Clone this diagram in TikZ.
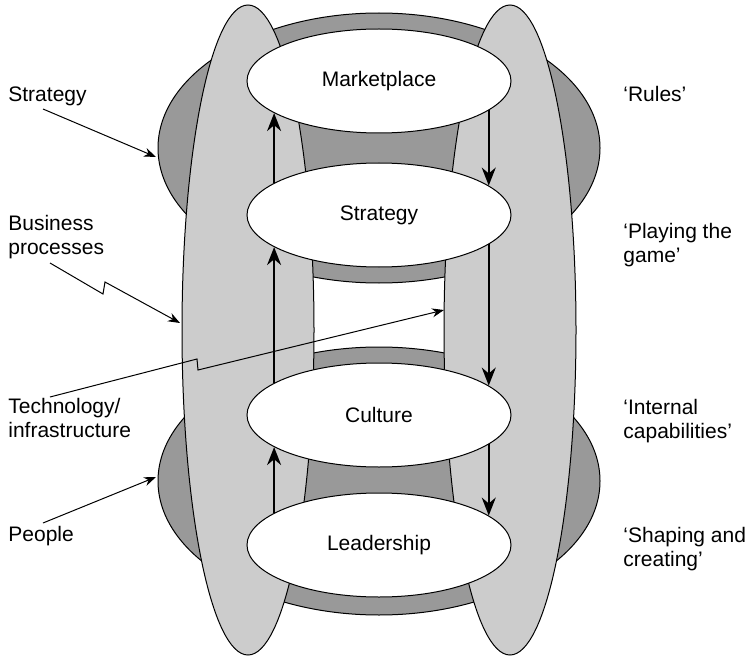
\documentclass[tikz,border=0pt]{standalone}
\usepackage{fontspec}
\setmainfont{Liberation Sans}
\usetikzlibrary{arrows.meta,shapes.geometric}
\definecolor{ringgray}{gray}{0.6}
\definecolor{pillargray}{gray}{0.8}
\begin{document}
\begin{tikzpicture}[x=0.5pt,y=-0.5pt,
  every node/.style={font=\fontsize{10.5}{12}\selectfont},
  stage/.style={draw, fill=white, ellipse, line width=0.5pt, minimum width=132pt, minimum height=52pt, inner sep=0pt},
  lbl/.style={anchor=base west, align=left, inner sep=0pt},
  flow/.style={line width=1pt, -{Stealth[length=9pt,width=7pt]}},
  pointer/.style={line width=0.5pt, -{Stealth[length=6pt,width=4.5pt]}}]
\useasboundingbox (0,0) rectangle (750,658);
% rings behind the pillars
\draw[fill=ringgray, line width=0.5pt] (379,148) ellipse [x radius=221, y radius=135];
\draw[fill=ringgray, line width=0.5pt] (379,481) ellipse [x radius=221, y radius=134];
% pillars
\draw[fill=pillargray, line width=0.5pt] (248,330) ellipse [x radius=66, y radius=325];
\draw[fill=pillargray, line width=0.5pt] (510,330) ellipse [x radius=66, y radius=325];
% stages
\node[stage] (market) at (379,81) {Marketplace};
\node[stage] (strat) at (379,215) {Strategy};
\node[stage] (cult) at (379,415) {Culture};
\node[stage] (lead) at (379,545) {Leadership};
\draw[flow] (strat.163) -- (market.197);
\draw[flow] (cult.163) -- (strat.197);
\draw[flow] (lead.163) -- (cult.197);
\draw[flow] (market.-15) -- (strat.15);
\draw[flow] (strat.-15) -- (cult.15);
\draw[flow] (cult.-15) -- (lead.15);
% left labels (base = last line)
\node[lbl] (lstrat) at (8,102) {Strategy};
\node[lbl] (lbusi) at (8,254) {Business\\processes};
\node[lbl] (ltech) at (8,437) {Technology/\\infrastructure};
\node[lbl] (lpeople) at (8,541) {People};
\coordinate (strat from) at (43,109);
\coordinate (strat to) at (156,157);
\coordinate (busi from) at (50,263);
\coordinate (busi to) at (180,323);
\coordinate (tech from) at (50,397);
\coordinate (tech to) at (444,310);
\coordinate (people from) at (43,523);
\coordinate (people to) at (156,477);
\draw[pointer] (strat from) -- (strat to);
\draw[pointer] (busi from) -- (103,294) -- (105,282) -- (busi to);
\draw[pointer] (tech from) -- (197,359) -- (198,370) -- (tech to);
\draw[pointer] (people from) -- (people to);
% right labels
\node[lbl] (rrules) at (623,102) {`Rules'};
\node[lbl] (rgame) at (623,262) {`Playing the\\game'};
\node[lbl] (rcap) at (623,438) {`Internal\\capabilities'};
\node[lbl] (rshape) at (623,566) {`Shaping and\\creating'};
\end{tikzpicture}
\end{document}
